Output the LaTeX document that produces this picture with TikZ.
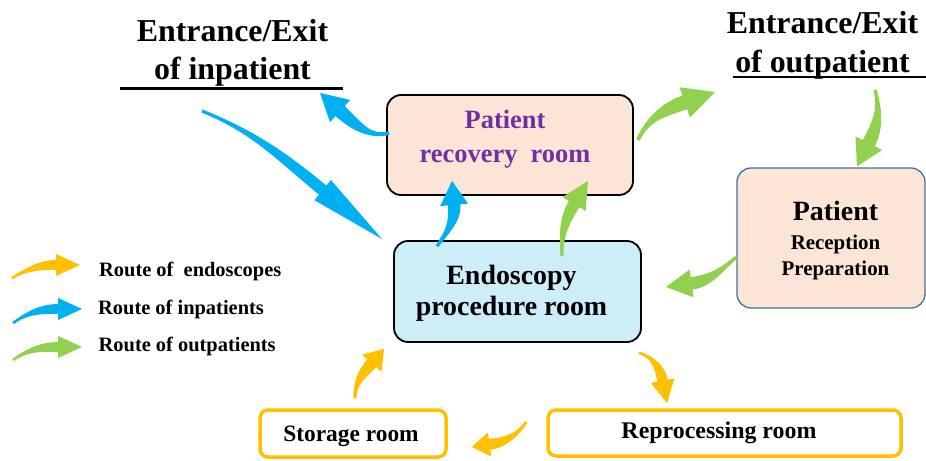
\documentclass[tikz,border=0pt]{standalone}
\usepackage{fontspec}
\setmainfont{Liberation Serif}
\usepackage{tikz}
\usetikzlibrary{calc,shapes}

\definecolor{inblue}{HTML}{00B0F0}
\definecolor{outgreen}{HTML}{92D050}
\definecolor{scopeyellow}{HTML}{FFC000}
\definecolor{peach}{HTML}{FBE5D6}
\definecolor{paleblue}{HTML}{CDEDF9}
\definecolor{roompurple}{HTML}{7030A0}
\definecolor{edgeblue}{HTML}{41719C}

\newcommand{\flowarrow}[7]{%
  \coordinate (fa-t) at #2;
  \coordinate (fa-p) at #4;
  \coordinate (fa-b) at ($(fa-p)+({#5}:{#6})$);
  \path let \p1=($(fa-b)-(fa-t)$), \n1={0.38*veclen(\x1,\y1)} in
    coordinate (fa-c1) at ($(fa-t)+({#3}:{\n1})$)
    coordinate (fa-c2) at ($(fa-b)+({#5}:{\n1})$);
  \fill[#1] ($(fa-t)+({#3+90}:{0.12*#7})$)
    .. controls ($(fa-c1)+({#3+90}:{0.12*#7})$) and ($(fa-c2)+({#5-90}:{0.45*#7})$) .. ($(fa-b)+({#5-90}:{0.45*#7})$)
    -- ($(fa-b)+({#5-90}:{#7})$) -- (fa-p) -- ($(fa-b)+({#5+90}:{#7})$)
    -- ($(fa-b)+({#5+90}:{0.45*#7})$)
    .. controls ($(fa-c2)+({#5+90}:{0.45*#7})$) and ($(fa-c1)+({#3-90}:{0.12*#7})$) .. ($(fa-t)+({#3-90}:{0.12*#7})$) -- cycle;
}

\begin{document}
\begin{tikzpicture}[
  room/.style={draw,rounded corners=14bp,line width=1.8bp,inner sep=0pt},
  scoperoom/.style={draw=scopeyellow,fill=white,rounded corners=8bp,line width=3.5bp,inner sep=0pt},
  legendtext/.style={anchor=west,inner sep=0pt,font=\bfseries\fontsize{20.5}{23}\selectfont}
]
\useasboundingbox (0bp,0bp) rectangle (926bp,-461bp);

\node (inexit) at (232.5bp,-52.5bp)[align=center,inner sep=0pt,font=\bfseries\fontsize{32}{38}\selectfont] {Entrance/Exit\\of inpatient};
\node (outexit) at (822.5bp,-45bp)[align=center,inner sep=0pt,font=\bfseries\fontsize{32}{39}\selectfont] {Entrance/Exit\\of outpatient};
\draw [line width=3bp] (120bp,-88bp) -- (343bp,-88bp);
\draw [line width=2.2bp] (733bp,-77bp) -- (926bp,-77bp);
\coordinate (inexit-in) at ($(inexit)+(-30.5bp,-58.5bp)$);
\coordinate (inexit-out) at ($(inexit)+(87.5bp,-40.5bp)$);
\coordinate (outexit-in) at ($(outexit)+(-107.5bp,-47bp)$);
\coordinate (outexit-out) at ($(outexit)+(52.5bp,-45bp)$);

\node (recovery) at (510bp,-145bp)[room,fill=peach,minimum width=246bp,minimum height=100bp] {};
\node (recoverytext) at ($(recovery)+(-5bp,5.5bp)$)[align=center,text=roompurple,font=\bfseries\fontsize{26.5}{34}\selectfont] {Patient\\recovery~ room};
\node (endoscopy) at (517.5bp,-291.5bp)[room,fill=paleblue,minimum width=247bp,minimum height=101bp] {};
\node (endotext) at ($(endoscopy)+(-6bp,-1.5bp)$)[align=center,font=\bfseries\fontsize{28}{31}\selectfont] {Endoscopy\\procedure room};
\node (reception) at (831bp,-238bp)[room,draw=edgeblue,line width=1.3bp,fill=peach,minimum width=188bp,minimum height=140bp] {};
\node (receptext) at ($(reception)+(4.5bp,-2.5bp)$)[align=center,font=\bfseries\fontsize{21}{26}\selectfont] {{\fontsize{28}{30}\selectfont Patient}\\[3bp]Reception\\Preparation};
\node (storage) at (353bp,-433.5bp)[scoperoom,minimum width=186bp,minimum height=47bp] {};
\node (storetext) at (351bp,-436.5bp)[font=\bfseries\fontsize{23.5}{26}\selectfont] {Storage room};
\node (repro) at (724.5bp,-433bp)[scoperoom,minimum width=353bp,minimum height=46bp] {};
\node (reprotext) at (719bp,-433bp)[font=\bfseries\fontsize{24}{27}\selectfont] {Reprocessing room};

\node (lgscope) at (99bp,-271.5bp)[legendtext] {Route of~ endoscopes};
\node (lgin) at (98bp,-309.5bp)[legendtext] {Route of inpatients};
\node (lgout) at (98.5bp,-346.5bp)[legendtext] {Route of outpatients};

\flowarrow{scopeyellow}{($(lgscope.west)+(-87bp,-6.5bp)$)}{30}{($(lgscope.west)+(-19bp,6.5bp)$)}{180}{24bp}{11bp}
\flowarrow{inblue}{($(lgin.west)+(-85bp,-13.5bp)$)}{35}{($(lgin.west)+(-16bp,0.5bp)$)}{180}{24bp}{11bp}
\flowarrow{outgreen}{($(lgout.west)+(-85.5bp,-13.5bp)$)}{35}{($(lgout.west)+(-16.5bp,-0.5bp)$)}{180}{24bp}{11bp}

\flowarrow{inblue}{($(recovery.west)+(3bp,12bp)$)}{195}{(inexit-out)}{-42}{27bp}{15bp}
\flowarrow{inblue}{(inexit-in)}{-22}{($(endoscopy.north west)+(-11bp,1bp)$)}{140.5}{77bp}{13bp}
\flowarrow{inblue}{($(endoscopy.north west)+(44bp,-6bp)$)}{55}{($(recovery.south)+(-58bp,15bp)$)}{-85}{24bp}{14bp}
\flowarrow{outgreen}{($(endoscopy.north)+(44.5bp,-16bp)$)}{92}{($(recovery.south)+(78bp,15bp)$)}{-121}{27bp}{13.5bp}
\flowarrow{outgreen}{($(recovery.east)+(4bp,5bp)$)}{65}{(outexit-in)}{199}{32bp}{16bp}
\flowarrow{outgreen}{(outexit-out)}{-75}{($(reception.north)+(26bp,1bp)$)}{63}{26bp}{15bp}
\flowarrow{outgreen}{($(reception.west)+(0bp,-19bp)$)}{220}{($(endoscopy.east)+(24bp,4.5bp)$)}{8}{26bp}{14bp}
\flowarrow{scopeyellow}{($(endoscopy.south east)+(-3bp,-10bp)$)}{-15}{($(repro.north)+(-57.5bp,5bp)$)}{101}{23bp}{12bp}
\flowarrow{scopeyellow}{($(repro.west)+(-20bp,11bp)$)}{235}{($(storage.east)+(24bp,-13.5bp)$)}{8}{18bp}{12bp}
\flowarrow{scopeyellow}{($(storage.north)+(2bp,10bp)$)}{92}{($(endoscopy.south west)+(-9bp,-6bp)$)}{229}{19bp}{13bp}
\end{tikzpicture}
\end{document}
